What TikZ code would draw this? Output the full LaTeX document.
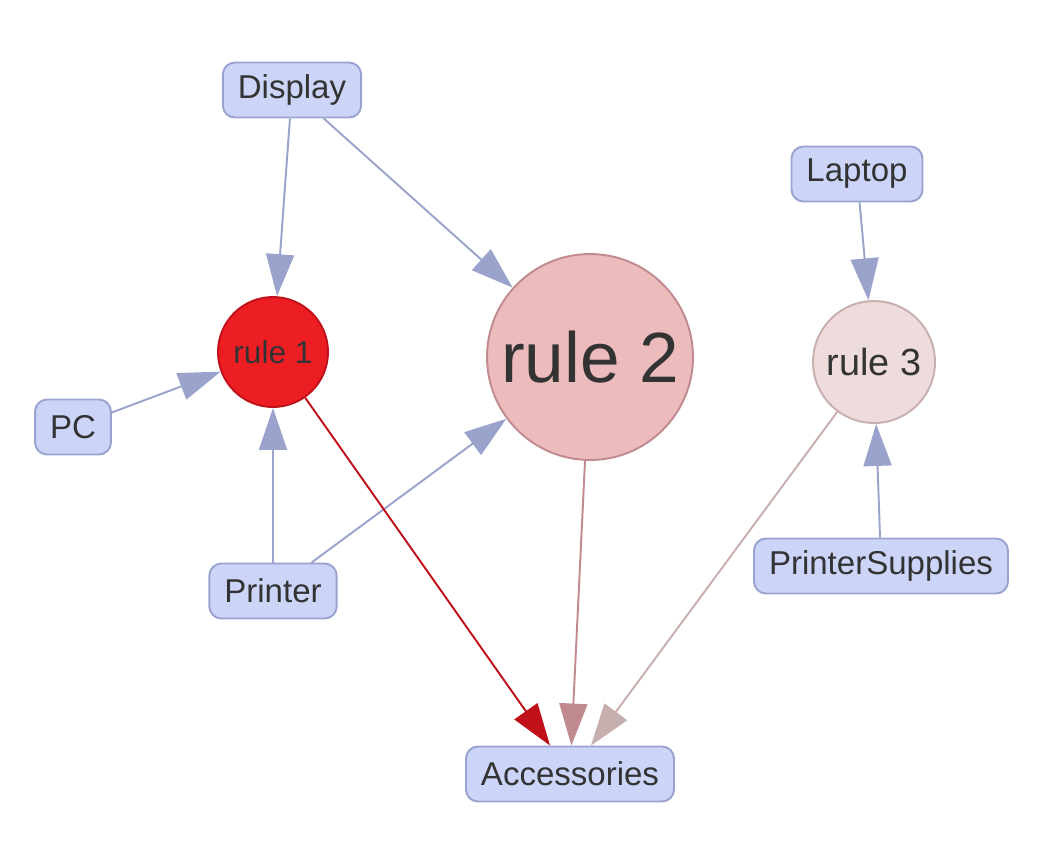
\documentclass[tikz,border=0pt]{standalone}
\usepackage{fontspec}
\setmainfont{Liberation Sans}
\usepackage{tikz}
\usetikzlibrary{arrows.meta}
\definecolor{boxfill}{HTML}{CCD5F8}
\definecolor{boxline}{HTML}{9AA3D0}
\definecolor{edgeblue}{HTML}{9AA3CC}
\definecolor{txt}{HTML}{333333}
\definecolor{rAfill}{HTML}{EC1E24}
\definecolor{rAline}{HTML}{C0101A}
\definecolor{rBfill}{HTML}{ECBCBC}
\definecolor{rBline}{HTML}{C08A8E}
\definecolor{rCfill}{HTML}{EEDBDB}
\definecolor{rCline}{HTML}{C8AFAF}

\begin{document}
\begin{tikzpicture}[x=0.02cm,y=-0.02cm,
    item/.style={draw=boxline,fill=boxfill,line width=1.1pt,rounded corners=0.24cm,
        minimum height=1.1cm,inner xsep=0.3cm,text=txt,font=\fontsize{18.8}{21}\selectfont},
    rulenode/.style={circle,line width=1.1pt,inner sep=0pt,text=txt},
    arr/.style={line width=1.1pt,-{Triangle[length=0.84cm,width=0.56cm]}}]
        \useasboundingbox (0,0) rectangle (1038,840);

        \node[item] (display) at (292,90) {Display};
        \node[item] (laptop) at (857,174) {Laptop};
        \node[item] (pc) at (73,427) {PC};
        \node[item] (printer) at (273,591) {Printer};
        \node[item] (supplies) at (881,566) {PrinterSupplies};
        \node[item] (acc) at (570,774) {Accessories};

        \node[rulenode,draw=rAline,fill=rAfill,minimum size=2.2cm,font=\fontsize{18}{20}\selectfont] (r1) at (273,352) {rule 1};
        \node[rulenode,draw=rBline,fill=rBfill,minimum size=4.12cm,font=\fontsize{40.5}{44}\selectfont] (r2) at (590,357) {rule 2};
        \node[rulenode,draw=rCline,fill=rCfill,minimum size=2.44cm,font=\fontsize{21.5}{24}\selectfont] (r3) at (874,362) {rule 3};

        \draw[arr,edgeblue] (display) -- (r1);
        \draw[arr,edgeblue] (display) -- (r2);
        \draw[arr,edgeblue] (pc) -- (r1);
        \draw[arr,edgeblue] (printer) -- (r1);
        \draw[arr,edgeblue] (printer) -- (r2);
        \draw[arr,edgeblue] (laptop) -- (r3);
        \draw[arr,edgeblue] (supplies) -- (r3);

        \draw[arr,rAline] (r1) -- (acc);
        \draw[arr,rBline] (r2) -- (acc);
        \draw[arr,rCline] (r3) -- (acc);
    \end{tikzpicture}
\end{document}
